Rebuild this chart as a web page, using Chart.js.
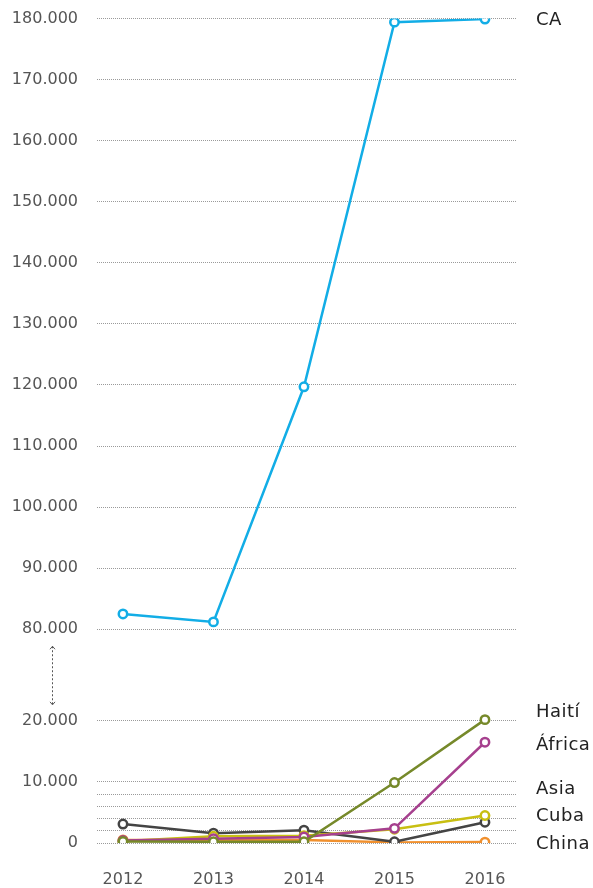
<!DOCTYPE html>
<html>
<head>
<meta charset="utf-8">
<script src="https://cdn.jsdelivr.net/npm/chart.js@4/dist/chart.umd.min.js"></script>
<style>
  html, body { margin: 0; padding: 0; background: #fff; }
  #wrap { width: 593px; height: 888px; position: relative; }
</style>
</head>
<body>
<div id="wrap"><canvas id="chart"></canvas></div>
<script>
// data
const years = [2012, 2013, 2014, 2015, 2016];
const ca     = [82500, 81200, 119700, 179400, 179900];
const haiti  = [250, 200, 200, 9900, 20200];
const africa = [400, 700, 1000, 2400, 16500];
const asia   = [300, 1100, 1200, 2250, 4500];
const cuba   = [3100, 1600, 2100, 200, 3400];
const china  = [500, 500, 500, 100, 150];

const seriesNames = ['CA', 'Haití', 'África', 'Asia', 'Cuba', 'China'];
const seriesColors = ['#12ade6', '#76892a', '#a6408e', '#c8bf12', '#444444', '#f0902e'];
const seriesValues = [ca, haiti, africa, asia, cuba, china];
// where each name sits, in data units
const nameAnchors = [179800, 21500, 16100, 8900, 4600, 0];

const lowTicks = [0, 2000, 4000, 6000, 8000, 10000, 20000];
const highTicks = [80000, 90000, 100000, 110000, 120000, 130000, 140000, 150000, 160000, 170000, 180000];
const labelledLow = [0, 10000, 20000];

// broken axis: 20.000 -> 80.000 is squeezed into a short gap
const GAP_LOW = 20000, GAP_HIGH = 80000, GAP_SIZE = 15000;
const SHIFT = GAP_HIGH - GAP_LOW - GAP_SIZE;
const toAxis = v => v < 50000 ? v : v - SHIFT;
const fromAxis = a => a <= GAP_LOW + GAP_SIZE / 2 ? a : a + SHIFT;
const fmt = v => String(v).replace(/\B(?=(\d{3})+(?!\d))/g, '.');

const datasets = seriesValues.map((vals, i) => ({
  label: seriesNames[i],
  data: years.map((y, j) => ({ x: y, y: toAxis(vals[j]) })),
  borderColor: seriesColors[i],
  pointBorderColor: seriesColors[i],
  pointBackgroundColor: '#fff',
  borderWidth: 2.5,
  pointRadius: 4.2,
  pointBorderWidth: 2.5,
  tension: 0,
}));
// olive on top of the low bundle
datasets.forEach((d, i) => { d.order = i; });

const sideLabels = {
  id: 'sideLabels',
  afterDraw(chart) {
    const { ctx, chartArea, scales } = chart;
    ctx.save();
    ctx.font = '18px "DejaVu Sans"';
    ctx.fillStyle = '#222';
    ctx.textAlign = 'left';
    ctx.textBaseline = 'middle';
    try { ctx.letterSpacing = '0.5px'; } catch (e) {}
    seriesNames.forEach((n, i) => {
      ctx.fillText(n, chartArea.right + 19, scales.y.getPixelForValue(toAxis(nameAnchors[i])) + 1);
    });
    // dotted double arrow marking the axis break
    const x = 52;
    const y1 = scales.y.getPixelForValue(toAxis(GAP_HIGH)) + 17;
    const y2 = scales.y.getPixelForValue(GAP_LOW) - 16;
    ctx.strokeStyle = '#555';
    ctx.lineWidth = 1;
    ctx.setLineDash([2, 2]);
    ctx.beginPath();
    ctx.moveTo(x + 0.5, y1);
    ctx.lineTo(x + 0.5, y2);
    ctx.stroke();
    ctx.setLineDash([]);
    ctx.beginPath();
    ctx.moveTo(x - 2, y1 + 3); ctx.lineTo(x + 0.5, y1); ctx.lineTo(x + 3, y1 + 3);
    ctx.moveTo(x - 2, y2 - 3); ctx.lineTo(x + 0.5, y2); ctx.lineTo(x + 3, y2 - 3);
    ctx.stroke();
    ctx.restore();
  }
};

new Chart(document.getElementById('chart'), {
  type: 'line',
  data: { datasets },
  options: {
    responsive: true,
    maintainAspectRatio: false,
    animation: false,
    layout: { padding: { top: 0, right: 76, left: 0, bottom: 0 } },
    plugins: { legend: { display: false }, tooltip: { enabled: false } },
    scales: {
      x: {
        type: 'linear',
        min: 2011.713,
        max: 2016.354,
        afterBuildTicks: s => { s.ticks = years.map(v => ({ value: v })); },
        afterFit: s => { s.height = 45; },
        grid: { display: false },
        border: { display: false },
        ticks: {
          padding: 19,
          color: '#555',
          font: { family: 'DejaVu Sans', size: 16 },
          callback: v => String(v),
        },
      },
      y: {
        min: 0,
        max: toAxis(180000),
        afterBuildTicks: s => {
          s.ticks = lowTicks.concat(highTicks).map(v => ({ value: toAxis(v) }));
        },
        afterFit: s => { s.width = 97; s.paddingTop = 18.5; s.paddingBottom = 0; },
        grid: { color: '#9a9a9a', lineWidth: 1, drawTicks: false },
        border: { display: false, dash: [1, 1] },
        ticks: {
          padding: 19,
          color: '#555',
          font: { family: 'DejaVu Sans', size: 16 },
          autoSkip: false,
          callback: a => {
            const v = fromAxis(a);
            if (v < GAP_LOW && !labelledLow.includes(v)) return '';
            return fmt(v);
          },
        },
      },
    },
  },
  plugins: [sideLabels],
});
</script>
</body>
</html>
